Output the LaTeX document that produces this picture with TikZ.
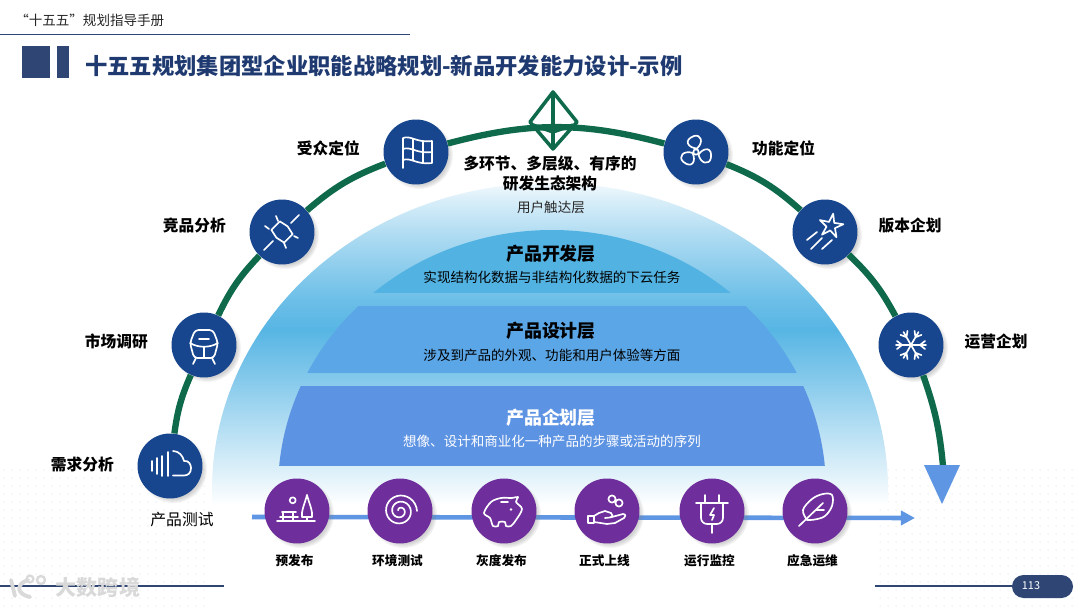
\documentclass[tikz,border=0pt]{standalone}
\usepackage{fontspec}
\usepackage{xcolor}
\usepackage{tikz}
\usetikzlibrary{arrows.meta,positioning,shadows}
\setmainfont{Noto Sans CJK SC}
\definecolor{mainnavy}{HTML}{2F4675}
\definecolor{titlenavy}{HTML}{1F3A70}
\definecolor{discblue}{HTML}{17468F}
\definecolor{discpurple}{HTML}{6E2E9C}
\definecolor{arcgreen}{HTML}{0E6A4A}
\definecolor{flowblue}{HTML}{5E96E3}
\definecolor{tiertop}{HTML}{52B3E3}
\definecolor{tiermid}{HTML}{5BA6E6}
\definecolor{tierlow}{HTML}{5D93E3}
\definecolor{dotgray}{HTML}{F2F5F9}
\definecolor{markgray}{HTML}{D9D9D9}
\pgfdeclareverticalshading{domefade}{100bp}{color(0bp)=(white);color(25bp)=(white);
  color(30.4bp)=(tiertop!20!white);color(36.6bp)=(tiertop!42!white);
  color(44.4bp)=(tiertop!70!white);color(52.2bp)=(tiertop!97!white);
  color(56.8bp)=(tiertop!85!white);color(66.1bp)=(tiertop!50!white);
  color(72.4bp)=(tiertop!22!white);color(75bp)=(tiertop!8!white);color(100bp)=(white)}
\tikzset{
  bluedisc/.style={circle,fill=discblue,minimum size=1.3cm,inner sep=0pt,circular drop shadow={shadow scale=1.05,opacity=.35}},
  purpledisc/.style={circle,fill=discpurple,minimum size=1.3cm,inner sep=0pt,circular drop shadow={shadow scale=1.05,opacity=.35}},
  sidelabel/.style={font=\fontsize{8.95}{11}\selectfont\bfseries,text=black,inner sep=0pt,yshift=0.07cm},
  steplabel/.style={font=\fontsize{7.2}{9}\selectfont\bfseries,text=black,inner sep=0pt,xshift=-0.05cm},
  tierhead/.style={font=\fontsize{10.2}{12}\selectfont\bfseries,inner sep=0pt},
  tiertext/.style={font=\fontsize{7.7}{9}\selectfont,inner sep=0pt},
  arcline/.style={draw=arcgreen,line width=3.6pt},
  iconline/.style={draw=white,line width=.95pt,line cap=round,line join=round},
  markline/.style={draw=markgray,line width=2.2pt,line cap=round}
}
\begin{document}
\begin{tikzpicture}[x=0.02cm,y=-0.02cm,node distance=0.46cm]
  \useasboundingbox (0,0) rectangle (1080,608);
  \fill[white] (0,0) rectangle (1080,608);
  \foreach \x in {4,12,...,210} \foreach \y in {470,478,...,606} \fill[dotgray] (\x,\y) circle (1);
  \foreach \x in {880,888,...,1078} \foreach \y in {470,478,...,606} \fill[dotgray] (\x,\y) circle (1);

  % header
  \node[font=\fontsize{7.7}{9}\selectfont,text=black!85,anchor=west,inner sep=0pt] (handbook) at (15,20) {“十五五”规划指导手册};
  \draw[mainnavy,line width=.5pt] (0,34) -- (410,34);
  \fill[mainnavy] (22,46) rectangle (50,78);
  \fill[mainnavy] (57,46) rectangle (69,78);
  \node[font=\fontsize{12.7}{15}\selectfont\bfseries,text=titlenavy,anchor=west,inner sep=0pt] (title) at (85,66) {十五五规划集团型企业职能战略规划-新品开发能力设计-示例};

  % dome and tiers
  \shade[shading=domefade] (212,505) -- (212,490) arc[start angle=180,end angle=360,x radius=338,y radius=307] -- (888,505) -- cycle;
  \begin{scope}
    \clip (552,490) ellipse [x radius=274,y radius=260];
    \fill[tiertop] (270,225) rectangle (830,293);
    \fill[tiermid] (270,306) rectangle (830,373);
    \fill[tierlow] (270,386) rectangle (830,466);
  \end{scope}
  \node[font=\fontsize{8.95}{11.4}\selectfont\bfseries,align=center,inner sep=0pt] (ecosystem) at (550,174) {多环节、多层级、有序的\\研发生态架构};
  \node[tiertext,text=black!85] (reach) at (551,207) {用户触达层};
  \node[tierhead] (devhead) at (551,254) {产品开发层};
  \node[tiertext] (devtext) at (552,277) {实现结构化数据与非结构化数据的下云任务};
  \node[tierhead] (designhead) at (551,331) {产品设计层};
  \node[tiertext] (designtext) at (552,355) {涉及到产品的外观、功能和用户体验等方面};
  \node[tierhead,text=white] (planhead) at (551,418) {产品企划层};
  \node[tiertext,text=white] (plantext) at (552,441) {想像、设计和商业化一种产品的步骤或活动的序列};

  % flow along the bottom
  \coordinate (flowstart) at (252,517);
  \coordinate (flowend) at (915,518);
  \draw[flowblue,line width=2.6pt,-{Triangle[length=8pt,width=8pt]}] (flowstart) -- (flowend);

  % discs on the arc
  \node[bluedisc] (need) at (170,466) {};
  \node[bluedisc] (market) at (204,345) {};
  \node[bluedisc] (rival) at (282,232) {};
  \node[bluedisc] (audience) at (416,152) {};
  \node[bluedisc] (feature) at (696,152) {};
  \node[bluedisc] (version) at (825,232) {};
  \node[bluedisc] (operate) at (911,345) {};
  \coordinate (arcend) at (943,466);
  \draw[arcline] (need) to[bend left=8] (market);
  \draw[arcline] (market) to[bend left=9] (rival);
  \draw[arcline] (rival) to[bend left=10] (audience);
  \draw[arcline] (audience) to[bend left=15] (feature);
  \draw[arcline] (feature) to[bend left=10] (version);
  \draw[arcline] (version) to[bend left=9] (operate);
  \draw[arcline] (operate) to[bend left=7] (arcend);
  \fill[flowblue] (924,465) -- (960,465) -- (942,504) -- cycle;
  \draw[draw=arcgreen,line width=2pt,line join=round] (553,92) -- (577,122) -- (553,149) -- (530,122) -- cycle (553,92) -- (553,149) (533,125) -- (553,132) -- (573,125);

  \node[sidelabel,yshift=-0.04cm,left=of need] (needlabel) {需求分析};
  \node[sidelabel,left=of market] (marketlabel) {市场调研};
  \node[sidelabel,yshift=0.05cm,left=of rival] (rivallabel) {竞品分析};
  \node[sidelabel,left=of audience] (audiencelabel) {受众定位};
  \node[sidelabel,right=of feature] (featurelabel) {功能定位};
  \node[sidelabel,yshift=0.05cm,right=0.41cm of version] (versionlabel) {版本企划};
  \node[sidelabel,right=0.41cm of operate] (operatelabel) {运营企划};

  % discs on the flow
  \node[font=\fontsize{9}{11}\selectfont,inner sep=0pt] (testing) at (182,520) {产品测试};
  \node[purpledisc] (prerelease) at (297,511) {};
  \node[purpledisc] (envtest) at (400,511) {};
  \node[purpledisc] (gray) at (504,511) {};
  \node[purpledisc] (launch) at (607,511) {};
  \node[purpledisc] (monitor) at (712,511) {};
  \node[purpledisc] (emergency) at (815,511) {};
  \node[steplabel,below=0.21cm of prerelease] (prelabel) {预发布};
  \node[steplabel,below=0.21cm of envtest] (envlabel) {环境测试};
  \node[steplabel,below=0.21cm of gray] (graylabel) {灰度发布};
  \node[steplabel,below=0.21cm of launch] (launchlabel) {正式上线};
  \node[steplabel,below=0.21cm of monitor] (monitorlabel) {运行监控};
  \node[steplabel,below=0.21cm of emergency] (emergencylabel) {应急运维};

  % icons
  \begin{scope}[shift={(need.center)}]
    \draw[iconline] (-18,-5) -- (-18,5) (-13,-8) -- (-13,8) (-8,-10) -- (-8,10) (-2,-14) -- (-2,10);
    \draw[iconline] (3,-15) .. controls (9,-15) and (13,-10) .. (14,-5) .. controls (19,-6) and (21,-1) .. (21,2) .. controls (21,7) and (18,9.5) .. (14,9.5) -- (3,9.5);
  \end{scope}
  \begin{scope}[shift={(market.center)}]
    \draw[iconline,rounded corners=2] (-9,-15) -- (9,-15) -- (14,-2) -- (10,13) -- (-10,13) -- (-14,-2) -- cycle;
    \draw[iconline] (-14,-2) .. controls (-6,3) and (6,3) .. (14,-2) (-5,-6) -- (5,-6) (0,2) -- (0,13) (-8,13) -- (-11,19) (8,13) -- (11,19);
  \end{scope}
  \begin{scope}[shift={(rival.center)}]
    \draw[iconline,rotate=45] (-6,-9) -- (6,-9) -- (8,0) -- (6,9) -- (-6,9) -- (-8,0) -- cycle;
    \draw[iconline] (-18,18) -- (-9,9) (9,-9) -- (17,-17) (-6,-16) -- (-4,-11) (-17,-6) -- (-13,-3) (12,4) -- (16,6) (2,11) -- (4,16);
  \end{scope}
  \begin{scope}[shift={(audience.center)}]
    \draw[iconline] (-13,-14) -- (-13,16) (-13,-14) .. controls (-5,-17) and (0,-9) .. (16,-11) -- (16,11) .. controls (0,13) and (-5,5) .. (-13,8);
    \draw[iconline] (-3,-13) -- (-3,8) (7,-10) -- (7,11) (-13,-3) .. controls (-5,-6) and (0,2) .. (16,0);
  \end{scope}
  \begin{scope}[shift={(feature.center)}]
    \draw[iconline] (0,0) circle (2.7);
    \foreach \ang in {0,120,240}
      \draw[iconline,rotate=\ang] (1,-3.5) .. controls (-8,-4) and (-13,-12) .. (-2,-16) .. controls (5,-18) and (8,-10) .. (1,-3.5);
  \end{scope}
  \begin{scope}[shift={(version.center)}]
    \draw[iconline] plot[samples at={0,...,9},variable=\k] ({6+(8.5+4*cos(180*\k))*cos(36*\k-80)},{-6+(8.5+4*cos(180*\k))*sin(36*\k-80)}) -- cycle;
    \draw[iconline] (-18,8) -- (-8,0) (-14,17) -- (-3,6) (-3,17) -- (7,8);
  \end{scope}
  \begin{scope}[shift={(operate.center)}]
    \foreach \ang in {30,90,...,330}
      \draw[iconline,rotate=\ang] (0,0) -- (0,-15) (-4,-14) -- (0,-9) -- (4,-14);
  \end{scope}

  \begin{scope}[shift={(prerelease.center)}]
    \draw[iconline] (-4.3,-10.7) circle (3);
    \draw[iconline] (-15,1) -- (-1,1) (-17,6) -- (1,6) (-20,10) -- (18,10) (-14,1) -- (-14,10) (-4,1) -- (-4,10) (10,6) -- (10,10);
    \draw[iconline] (10,-16) .. controls (8,-8) and (4,0) .. (5,6) -- (15,6) .. controls (16,0) and (12,-8) .. (10,-16);
  \end{scope}
  \begin{scope}[shift={(envtest.center)}]
    \draw[iconline] plot[domain=1080:200,samples=70,smooth] ({(2+15*(\x-200)/880)*cos(\x)},{(2+15*(\x-200)/880)*sin(\x)});
  \end{scope}
  \begin{scope}[shift={(gray.center)}]
    \draw[iconline] plot[smooth cycle,tension=.55] coordinates {(-20,2) (-13,-9) (-3,-13) (8,-13) (14,-14) (12,-9) (18,-2) (12,9) (7,15) (2,15) (1,11) (-5,11) (-6,15) (-11,15) (-14,7)};
    \draw[iconline] (-3,-9) -- (4,-9);
    \fill[white] (7,-1.5) circle (1.3);
  \end{scope}
  \begin{scope}[shift={(launch.center)}]
    \draw[iconline] (5,-12) circle (3.6) (12,-8) circle (3.6);
    \draw[iconline] (-19,5) rectangle (-13,12);
    \draw[iconline] (-13,5) -- (-8,2) -- (-2,0) -- (4,2) .. controls (6,3) and (6,6) .. (3,6.5) -- (-2,7) (3,6.5) -- (16,3) .. controls (19,3) and (19,6) .. (17,7) -- (8,12) -- (0,13) -- (-13,11);
  \end{scope}
  \begin{scope}[shift={(monitor.center)}]
    \draw[iconline] (-7,-16) -- (-7,-8) (7,-16) -- (7,-8) (-16,-8) -- (16,-8) (0,13) -- (0,22);
    \draw[iconline,rounded corners=3.5] (-11,-8) -- (-11,13) -- (11,13) -- (11,-8);
    \draw[iconline] (2,-3) -- (-2,4) -- (2,4) -- (0,9);
  \end{scope}
  \begin{scope}[shift={(emergency.center)}]
    \draw[iconline] plot[smooth,tension=.6] coordinates {(-8,9) (-12,-1) (-3,-12) (8,-17) (17,-16) (17,-5) (10,5) (0,8.5) (-8,9)};
    \draw[iconline] (-16,15) -- (8,-8) (1,-1) -- (9,-1);
  \end{scope}

  % footer
  \draw[mainnavy,line width=.6pt] (0,586) -- (224,586);
  \draw[mainnavy,line width=.6pt] (875,586) -- (1015,586);
  \fill[mainnavy,rounded corners=0.23cm] (1012,575) rectangle (1073,598);
  \node[font=\fontsize{6.2}{7}\selectfont,text=white,inner sep=0pt] (pageno) at (1031,586) {113};
  \draw[markline] (11,580) -- (15,596) (28,580) .. controls (16,584) and (16,594) .. (30,597);
  \draw[markline,line width=1.3pt] (30,579) circle (3.4) (41,580) circle (4);
  \node[font=\fontsize{12}{14}\selectfont\bfseries,text=markgray,inner sep=0pt] (brand) at (98,587) {大数跨境};
\end{tikzpicture}
\end{document}
